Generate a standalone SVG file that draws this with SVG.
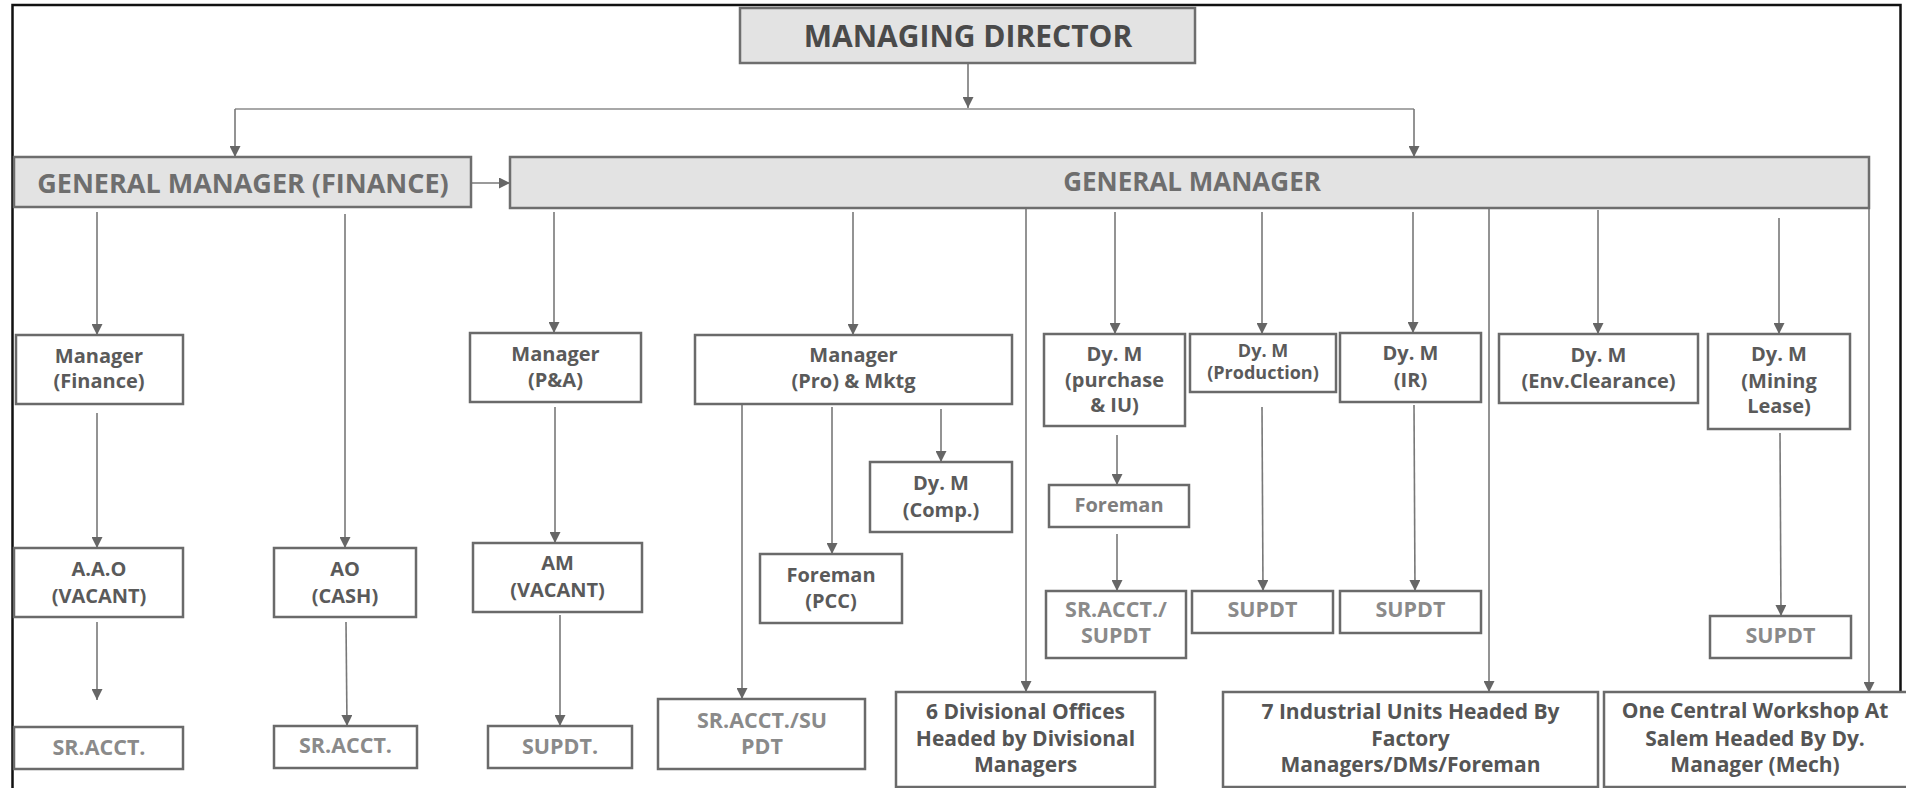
<svg xmlns="http://www.w3.org/2000/svg" width="1906" height="788" viewBox="0 0 1906 788">
<style>
text{font-family:"Open Sans","Liberation Sans",sans-serif;font-weight:700;text-anchor:middle}
.hdr{fill:#e3e3e3;stroke:#6e6e6e;stroke-width:2.5}
.box{fill:#ffffff;stroke:#6a6a6a;stroke-width:2.5}
.t{font-size:20px;fill:#5a5a5a}
.ts{font-size:18px;fill:#5a5a5a}
.tb{font-size:21px;fill:#555555}
.tg{font-size:21.5px;fill:#8a8a8a}
.th{font-size:27px;fill:#6e6e6e}
.tmd{font-size:30px;fill:#4a4a4a}
.c{fill:none;stroke:#787878;stroke-width:1.6;marker-end:url(#arr)}
.cl{fill:none;stroke:#a8a8a8;stroke-width:1.8}
</style>
<defs>
<marker id="arr" viewBox="0 0 10 10" refX="10" refY="5" markerWidth="11" markerHeight="11" markerUnits="userSpaceOnUse" orient="auto">
<path d="M0,0 L10,5 L0,10 z" fill="#666666"/>
</marker>
</defs>
<rect x="0" y="0" width="1906" height="788" fill="#ffffff"/>
<rect x="12.5" y="5" width="1888" height="800" fill="none" stroke="#111111" stroke-width="2.5"/>

<g id="connectors">
<path class="c" d="M968,63 V108"/>
<path class="cl" d="M235,109 H1414"/>
<path class="c" d="M235,109 V157"/>
<path class="c" d="M1414,109 V157"/>
<path class="c" d="M471,183 H510"/>
<path class="c" d="M97,212 V335"/>
<path class="c" d="M345,214 V548"/>
<path class="c" d="M97,413 V548"/>
<path class="c" d="M97,622 V700"/>
<path class="c" d="M346,622 L347,726"/>
<path class="c" d="M554,212 V333"/>
<path class="c" d="M555,407 V543"/>
<path class="c" d="M560,615 V726"/>
<path class="c" d="M853,212 V335"/>
<path class="c" d="M742,402 V699"/>
<path class="c" d="M832,407 V554"/>
<path class="c" d="M941,409 V462"/>
<path class="c" d="M1026,207 V692"/>
<path class="c" d="M1115,212 V334"/>
<path class="c" d="M1117,435 V485"/>
<path class="c" d="M1117,534 V591"/>
<path class="c" d="M1262,212 V334"/>
<path class="c" d="M1262,407 L1263,591"/>
<path class="c" d="M1413,212 V333"/>
<path class="c" d="M1414,405 L1415,591"/>
<path class="c" d="M1489,207 V692"/>
<path class="c" d="M1598,210 V334"/>
<path class="c" d="M1779,218 V334"/>
<path class="c" d="M1780,433 L1781,616"/>
<path class="c" d="M1869,207 V693"/>
</g>

<g id="md"><rect class="hdr" x="740" y="8" width="455" height="55"/><text class="tmd" x="968" y="47">MANAGING DIRECTOR</text></g>
<g id="gmf"><rect class="hdr" x="14" y="157" width="457" height="50"/><text class="th" x="243" y="193">GENERAL MANAGER (FINANCE)</text></g>
<g id="gm"><rect class="hdr" x="510" y="157" width="1359" height="51"/><text class="th" style="font-size:26px" x="1192" y="191">GENERAL MANAGER</text></g>

<g id="mgr-finance"><rect class="box" x="16" y="335" width="167" height="69"/><text class="t" x="99" y="363">Manager</text><text class="t" x="99" y="388">(Finance)</text></g>
<g id="aao"><rect class="box" x="14" y="548" width="169" height="69"/><text class="t" x="99" y="576">A.A.O</text><text class="t" x="99" y="603">(VACANT)</text></g>
<g id="sracct1"><rect class="box" x="14" y="727" width="169" height="42"/><text class="tg" x="99" y="755">SR.ACCT.</text></g>
<g id="ao-cash"><rect class="box" x="274" y="548" width="142" height="69"/><text class="t" x="345" y="576">AO</text><text class="t" x="345" y="603">(CASH)</text></g>
<g id="sracct2"><rect class="box" x="274" y="726" width="143" height="42"/><text class="tg" x="345.5" y="753">SR.ACCT.</text></g>

<g id="mgr-pa"><rect class="box" x="470" y="333" width="171" height="69"/><text class="t" x="555.5" y="361">Manager</text><text class="t" x="555.5" y="387">(P&amp;A)</text></g>
<g id="am"><rect class="box" x="473" y="543" width="169" height="69"/><text class="t" x="557.5" y="570">AM</text><text class="t" x="557.5" y="597">(VACANT)</text></g>
<g id="supdt-pa"><rect class="box" x="488" y="726" width="144" height="42"/><text class="tg" x="560" y="754">SUPDT.</text></g>

<g id="mgr-pro"><rect class="box" x="695" y="335" width="317" height="69"/><text class="t" x="853.5" y="362">Manager</text><text class="t" x="853.5" y="388">(Pro) &amp; Mktg</text></g>
<g id="dym-comp"><rect class="box" x="870" y="462" width="142" height="70"/><text class="t" x="941" y="490">Dy. M</text><text class="t" x="941" y="517">(Comp.)</text></g>
<g id="foreman-pcc"><rect class="box" x="760" y="554" width="142" height="69"/><text class="t" x="831" y="582">Foreman</text><text class="t" x="831" y="608">(PCC)</text></g>
<g id="sracct-supdt-pro"><rect class="box" x="658" y="699" width="207" height="70"/><text class="tg" x="762" y="728">SR.ACCT./SU</text><text class="tg" x="762" y="754">PDT</text></g>
<g id="divisional"><rect class="box" x="896" y="692" width="259" height="95"/><text class="tb" x="1025.5" y="719">6 Divisional Offices</text><text class="tb" x="1025.5" y="746">Headed by Divisional</text><text class="tb" x="1025.5" y="772">Managers</text></g>

<g id="dym-purchase"><rect class="box" x="1044" y="334" width="141" height="92"/><text class="t" x="1114.5" y="361">Dy. M</text><text class="t" x="1114.5" y="387">(purchase</text><text class="t" x="1114.5" y="412">&amp; IU)</text></g>
<g id="foreman-iu"><rect class="box" x="1049" y="485" width="140" height="42"/><text class="t" style="fill:#7e7e7e" x="1119" y="512">Foreman</text></g>
<g id="sracct-supdt-iu"><rect class="box" x="1046" y="591" width="140" height="67"/><text class="tg" x="1116" y="617">SR.ACCT./</text><text class="tg" x="1116" y="643">SUPDT</text></g>

<g id="dym-production"><rect class="box" x="1190" y="334" width="146" height="58"/><text class="ts" x="1263" y="357">Dy. M</text><text class="ts" x="1263" y="379">(Production)</text></g>
<g id="supdt-production"><rect class="box" x="1192" y="591" width="141" height="42"/><text class="tg" x="1262.5" y="617">SUPDT</text></g>

<g id="dym-ir"><rect class="box" x="1340" y="333" width="141" height="69"/><text class="t" x="1410.5" y="360">Dy. M</text><text class="t" x="1410.5" y="387">(IR)</text></g>
<g id="supdt-ir"><rect class="box" x="1340" y="591" width="141" height="42"/><text class="tg" x="1410.5" y="617">SUPDT</text></g>

<g id="industrial"><rect class="box" x="1223" y="692" width="375" height="95"/><text class="tb" x="1410.5" y="719">7 Industrial Units Headed By</text><text class="tb" x="1410.5" y="746">Factory</text><text class="tb" x="1410.5" y="772">Managers/DMs/Foreman</text></g>

<g id="dym-env"><rect class="box" x="1499" y="334" width="199" height="69"/><text class="t" x="1598.5" y="362">Dy. M</text><text class="t" x="1598.5" y="388">(Env.Clearance)</text></g>

<g id="dym-mining"><rect class="box" x="1708" y="334" width="142" height="95"/><text class="t" x="1779" y="361">Dy. M</text><text class="t" x="1779" y="388">(Mining</text><text class="t" x="1779" y="413">Lease)</text></g>
<g id="supdt-mining"><rect class="box" x="1710" y="616" width="141" height="42"/><text class="tg" x="1780.5" y="643">SUPDT</text></g>

<g id="central"><rect class="box" x="1604" y="692" width="310" height="95"/><text class="tb" x="1755" y="718">One Central Workshop At</text><text class="tb" x="1755" y="746">Salem Headed By Dy.</text><text class="tb" x="1755" y="772">Manager (Mech)</text></g>
</svg>
